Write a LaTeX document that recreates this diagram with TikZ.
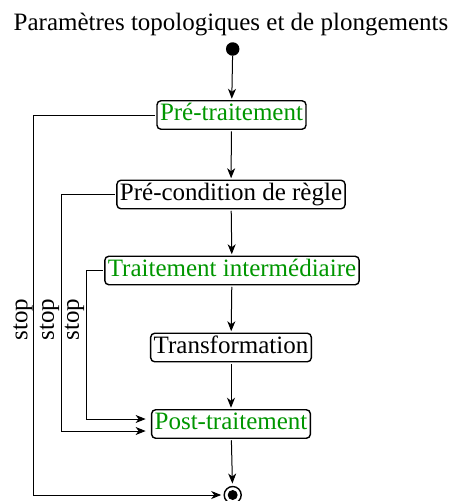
\documentclass[tikz,border=0pt]{standalone}
\usepackage{fontspec}
\setmainfont{Liberation Serif}
\usetikzlibrary{arrows.meta,calc}
\definecolor{boxgreen}{RGB}{0,150,0}
\begin{document}
\begin{tikzpicture}[x=1pt,y=-1pt,
  every node/.style={font=\fontsize{25}{30}\selectfont},
  stepbox/.style={draw,line width=1.4pt,rounded corners=4pt,inner xsep=3pt,inner ysep=2.5pt,
    text height=17.5pt,text depth=6pt,outer sep=2pt},
  gbox/.style={stepbox,text=boxgreen},
  arr/.style={line width=1pt,-{Stealth[length=10pt,width=8pt,inset=3pt]}},
  stoplbl/.style={rotate=90,inner sep=0pt}]
\useasboundingbox (0,0) rectangle (455,501);
\node[inner sep=0pt] (title) at (231,25) {Paramètres topologiques et de plongements};
\node[circle,fill,inner sep=0pt,minimum size=13.5pt] (start) at (232.7,49) {};
\node[gbox] (pre) at (231.5,115) {Pré-traitement};
\node[stepbox] (cond) at (231,194.5) {Pré-condition de règle};
\node[gbox] (inter) at (232,270.5) {Traitement intermédiaire};
\node[stepbox] (transfo) at (231,347.5) {Transformation};
\node[gbox] (post) at (231,424) {Post-traitement};
\node[circle,draw,line width=1.4pt,inner sep=0pt,minimum size=17pt,outer sep=3pt] (end) at (232.7,495) {};
\fill (end.center) circle (5pt);
\coordinate (L1) at (33.3,0);
\coordinate (L2) at (61,0);
\coordinate (L3) at (86,0);
\draw[arr] (start) -- (pre);
\draw[arr] (pre) -- (cond);
\draw[arr] (cond) -- (inter);
\draw[arr] (inter) -- (transfo);
\draw[arr] (transfo) -- (post);
\draw[arr] (post) -- (end);
\draw[arr] (pre.west) -- (pre.west -| L1) |- (end.west);
\draw[arr,shorten >=4pt] (cond.west) -- (cond.west -| L2) |- ($(post.west)+(0,7)$);
\draw[arr,shorten >=4pt] (inter.west) -- (inter.west -| L3) |- ($(post.west)+(0,-5)$);
\node[stoplbl] (s1) at (23,319.5) {stop};
\node[stoplbl] (s2) at (49.5,319.5) {stop};
\node[stoplbl] (s3) at (74.5,319.5) {stop};
\end{tikzpicture}
\end{document}
